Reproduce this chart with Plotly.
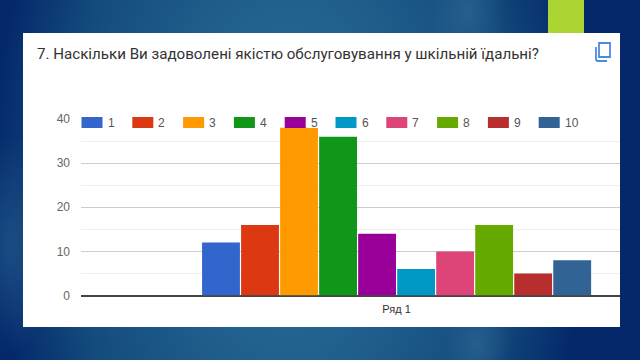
import base64
import plotly.graph_objects as go

series_names = ["1", "2", "3", "4", "5", "6", "7", "8", "9", "10"]
category = ["Ряд 1"]
values = [12, 16, 38, 36, 14, 6, 10, 16, 5, 8]
colors = ["#3366cc", "#dc3912", "#ff9900", "#109618", "#990099",
          "#0099c6", "#dd4477", "#66aa00", "#b82e2e", "#316395"]
y_ticks = [0, 10, 20, 30, 40]
title = "7. Наскільки Ви задоволені якістю обслуговування у шкільній їдальні?"

W, H = 640, 360
svg = f"""<svg xmlns='http://www.w3.org/2000/svg' width='{W}' height='{H}'>
<defs>
<radialGradient id='a' gradientUnits='userSpaceOnUse' cx='0' cy='0' r='1' gradientTransform='translate(290 180) scale(300 480)'>
<stop offset='0' stop-color='#266a94'/><stop offset='0.35' stop-color='#22628f'/><stop offset='0.75' stop-color='#134a7c'/><stop offset='1' stop-color='#04286a'/>
</radialGradient>
<radialGradient id='g' gradientUnits='userSpaceOnUse' cx='0' cy='0' r='1' gradientTransform='translate(468 10) scale(38 60)'>
<stop offset='0' stop-color='#4f86b0' stop-opacity='0.3'/><stop offset='1' stop-color='#4f86b0' stop-opacity='0'/>
</radialGradient>
<radialGradient id='h' gradientUnits='userSpaceOnUse' cx='0' cy='0' r='1' gradientTransform='translate(478 345) scale(34 50)'>
<stop offset='0' stop-color='#4f86b0' stop-opacity='0.3'/><stop offset='1' stop-color='#4f86b0' stop-opacity='0'/>
</radialGradient>
<radialGradient id='l' gradientUnits='userSpaceOnUse' cx='0' cy='0' r='1' gradientTransform='translate(10 245) scale(45 110)'>
<stop offset='0' stop-color='#2a6596' stop-opacity='0.55'/><stop offset='1' stop-color='#2a6596' stop-opacity='0'/>
</radialGradient>
</defs>
<rect width='{W}' height='{H}' fill='#04286a'/>
<rect width='{W}' height='{H}' fill='url(#a)'/>
<rect width='{W}' height='{H}' fill='url(#g)'/>
<rect width='{W}' height='{H}' fill='url(#h)'/>
<rect width='{W}' height='{H}' fill='url(#l)'/>
</svg>"""
bg = "data:image/svg+xml;base64," + base64.b64encode(svg.encode()).decode()

def px(x): return x / W
def py(y): return 1 - y / H

fig = go.Figure()
for n, v, c in zip(series_names, values, colors):
    fig.add_bar(name=n, x=category, y=[v], marker=dict(color=c, line=dict(width=0)),
                showlegend=False)

shapes = [
    dict(type="rect", xref="paper", yref="paper", x0=px(23), x1=px(620), y0=py(33), y1=py(327),
         fillcolor="white", line_width=0, layer="below"),
    dict(type="rect", xref="paper", yref="paper", x0=px(548), x1=px(584), y0=py(0), y1=py(33),
         fillcolor="#acd433", line_width=0, layer="below"),
    # copy icon
    dict(type="path", xref="paper", yref="paper",
         path=f"M {px(596)} {py(47)} V {py(59)} Q {px(596)} {py(61)} {px(598)} {py(61)} H {px(607)}",
         line=dict(color="#4a8be0", width=1.8)),
    dict(type="rect", xref="paper", yref="paper", x0=px(599), x1=px(610), y0=py(43), y1=py(57),
         line=dict(color="#4a8be0", width=1.8)),
]
annotations = [
    dict(text=title, xref="paper", yref="paper", x=px(34.5), y=py(54), xanchor="left", yanchor="middle",
         showarrow=False, font=dict(family="Roboto", size=15.13, color="#333333")),
]
# hand-drawn legend row: a white patch masks the gridline behind each label
for i, (n, c) in enumerate(zip(series_names, colors)):
    x0 = 81.5 + i * 50.8
    label_w = 7 * len(n) + 2
    shapes.append(dict(type="rect", xref="paper", yref="paper", x0=px(x0 + 23), x1=px(x0 + 26 + label_w),
                       y0=py(117), y1=py(128), fillcolor="white", line_width=0))
    shapes.append(dict(type="rect", xref="paper", yref="paper", x0=px(x0), x1=px(x0 + 21),
                       y0=py(117), y1=py(128), fillcolor=c, line_width=0))
    annotations.append(dict(text=n, xref="paper", yref="paper", x=px(x0 + 24), y=py(122.5),
                            xanchor="left", yanchor="middle", showarrow=False,
                            font=dict(family="Liberation Sans", size=12, color="#555555")))

fig.update_layout(
    width=W, height=H, margin=dict(l=0, r=0, t=0, b=0, autoexpand=False),
    paper_bgcolor="#04286a", plot_bgcolor="rgba(0,0,0,0)",
    barmode="group", bargap=0.2, bargroupgap=0.03,
    images=[dict(source=bg, xref="paper", yref="paper", x=0, y=1, sizex=1, sizey=1,
                 sizing="stretch", xanchor="left", yanchor="top", layer="below")],
    shapes=shapes, annotations=annotations,
    xaxis=dict(domain=[px(81), px(620)], range=[-0.647, 0.458], showgrid=False, zeroline=False,
               showline=False, ticks="", ticklabelstandoff=5,
               tickfont=dict(family="Liberation Sans", size=11, color="#333333")),
    yaxis=dict(domain=[py(295.5), py(119)], range=[0, 40], tickvals=y_ticks,
               gridcolor="#cccccc", gridwidth=1, zeroline=True, zerolinecolor="#444444", zerolinewidth=1.5,
               ticklabelstandoff=10, showline=False, ticks="",
               minor=dict(dtick=5, showgrid=True, gridcolor="#eeeeee", gridwidth=1, ticks=""),
               tickfont=dict(family="Liberation Sans", size=12, color="#666666")),
)
fig.write_html("out.html", config=dict(displayModeBar=False),
               post_script="document.body.style.margin='0';")
